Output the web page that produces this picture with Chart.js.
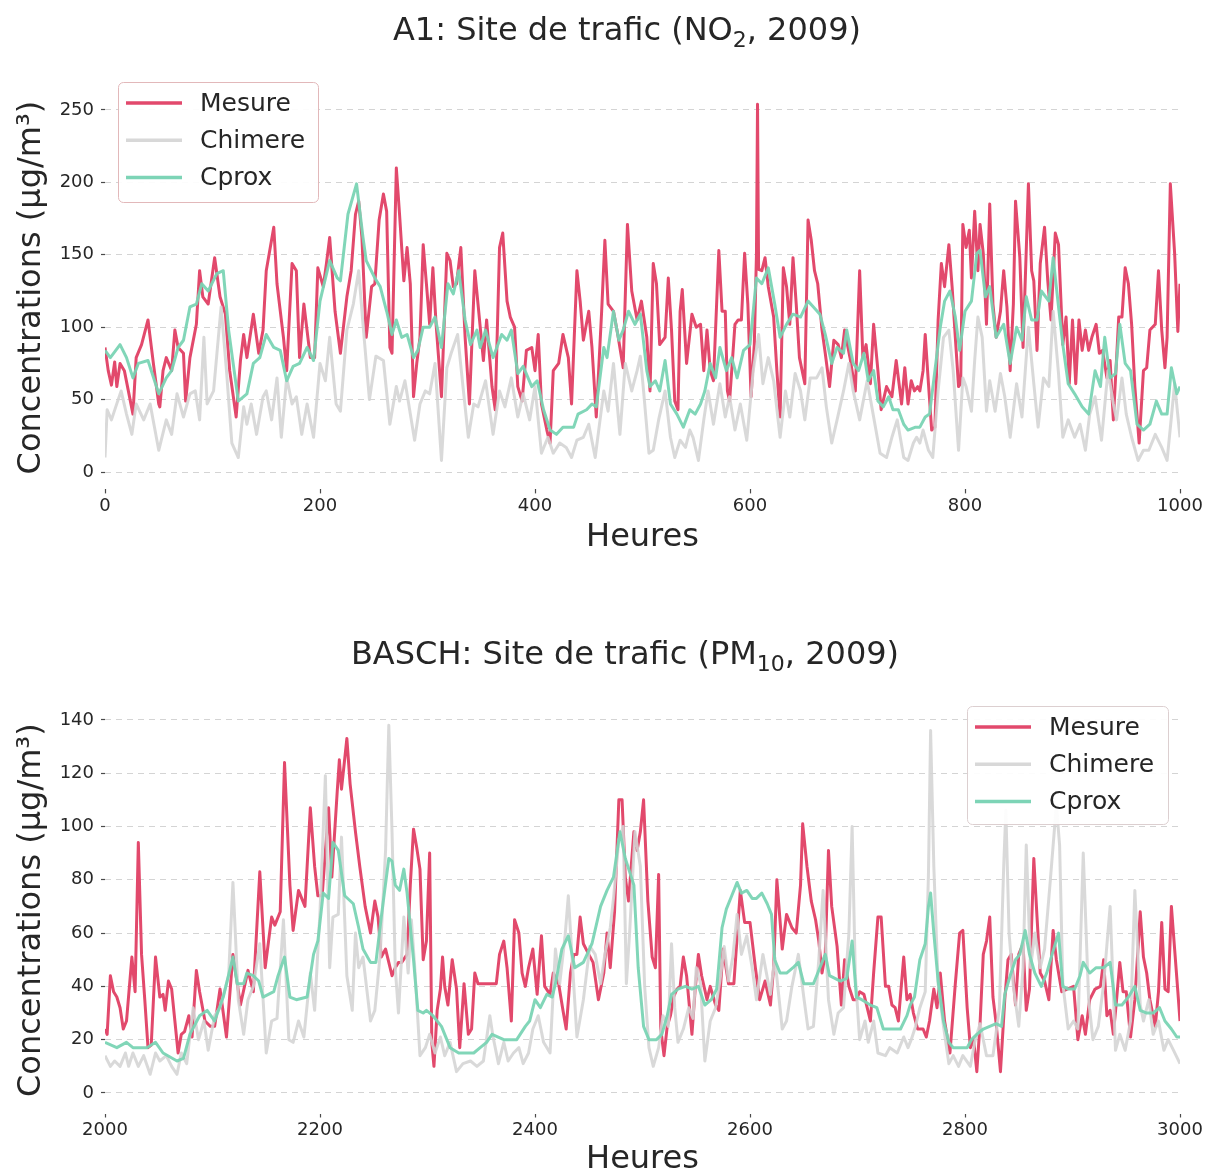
<!DOCTYPE html>
<html>
<head>
<meta charset="utf-8">
<script src="https://cdn.jsdelivr.net/npm/chart.js@4.4.1/dist/chart.umd.min.js"></script>
<style>
  html, body { margin: 0; padding: 0; background: #fff; overflow: hidden; }
  #wrap { position: relative; width: 1214px; height: 1172px; overflow: hidden; }
  canvas { position: absolute; left: 0; }
  #c1 { top: 0; }
  #c2 { top: 590px; }
</style>
</head>
<body>
<div id="wrap">
  <canvas id="c1" width="1214" height="590"></canvas>
  <canvas id="c2" width="1214" height="620"></canvas>
</div>
<script>
const seriesNames = ['Mesure', 'Chimere', 'Cprox'];

// A1, NO2, hours 0-1000
const a1Mesure = [[0,86],[3,70],[6,60],[9,76],[11,59],[14,75],[18,70],[26,40],[29,79],[34,88],[40,105],[45,75],[50,47],[51,45],[54,70],[57,79],[62,70],[65,98],[68,86],[73,82],[75,49],[79,79],[85,102],[88,139],[91,121],[96,116],[102,148],[107,121],[112,109],[116,70],[122,38],[126,77],[129,95],[132,79],[138,109],[143,82],[147,98],[150,139],[157,169],[160,130],[166,93],[169,70],[174,144],[178,139],[181,79],[185,116],[191,79],[195,79],[198,141],[203,128],[206,144],[209,162],[214,111],[219,82],[225,121],[229,139],[233,178],[236,187],[239,162],[243,93],[248,128],
  [251,130],[255,174],[259,192],[262,180],[265,86],[267,82],[271,210],[274,178],[278,132],[281,155],[284,130],[287,52],[290,75],[293,93],[296,157],[299,130],[302,102],[305,141],[308,102],[313,52],[318,151],[321,146],[324,128],[327,130],[331,155],[335,93],[339,47],[344,139],[347,116],[352,77],[355,105],[360,59],[363,43],[367,155],[370,165],[374,118],[377,107],[381,100],[384,59],[388,49],[392,84],[397,86],[400,70],[403,95],[406,47],[411,29],[414,20],[417,70],[422,75],[426,95],[431,79],[434,47],[439,139],[442,118],[445,91],[450,111],[453,86],[457,38],[462,111],[465,160],[468,116],[473,111],[477,95],[482,72],[486,171],[490,125],[495,105],[499,118],
  [504,93],[507,56],[510,144],[513,130],[516,88],[521,93],[524,134],[527,98],[530,49],[533,43],[535,111],[537,126],[541,75],[546,109],[550,100],[554,102],[557,70],[560,98],[563,70],[566,63],[571,153],[574,111],[577,111],[579,56],[581,49],[586,102],[589,105],[592,105],[595,151],[598,116],[601,52],[604,88],[606,150],[607,254],[608,140],[611,139],[614,148],[617,128],[622,107],[625,70],[628,38],[631,141],[634,128],[637,102],[640,148],[643,116],[646,79],[651,61],[654,174],[657,160],[660,139],[663,130],[667,98],[670,82],[674,59],[678,91],[682,88],[685,79],[688,98],[693,79],[698,56],[702,139],[705,79],[708,88],[712,61],[715,102],[719,70],[722,43],[727,59],[732,52],[736,77],[741,47],[744,72],[747,47],[750,63],[753,56],
  [756,59],[758,56],[761,70],[763,95],[766,61],[769,29],[772,31],[775,105],[778,144],[781,128],[785,157],[788,128],[791,93],[794,59],[796,61],[798,171],[801,155],[804,167],[806,134],[809,180],[812,139],[814,171],[817,151],[820,102],[823,185],[826,116],[829,93],[833,111],[836,139],[839,114],[842,70],[845,116],[847,187],[851,148],[854,86],[859,199],[862,139],[864,132],[867,84],[870,144],[874,169],[877,132],[880,105],[884,165],[887,157],[891,88],[894,107],[897,61],[900,105],[903,61],[906,105],[909,84],[912,98],[915,84],[918,93],[922,102],[925,82],[928,84],[932,65],[935,77],[938,36],[943,107],[946,107],[949,141],[952,130],[955,102],[958,59],[962,20],[966,70],[969,72],[972,98],[977,102],[980,139],[983,98],[986,72],[988,93],[991,199],[995,151],[998,97],[1000,130]];

const a1Chimere = [[0,10],[2,43],[6,36],[10,45],[15,56],[20,40],[25,26],[29,47],[36,36],[42,47],[50,15],[57,36],[62,26],[67,54],[73,38],[79,54],[84,56],[88,36],[92,93],[95,47],[101,56],[108,114],[113,70],[118,20],[124,10],[129,45],[132,33],[136,47],[141,26],[147,52],[150,56],[155,36],[160,65],[164,24],[169,65],[174,47],[178,52],[183,26],[188,47],[194,24],[200,75],[205,63],[209,93],[215,47],[219,42],[225,98],[231,116],[236,139],[240,102],[246,50],
  [252,80],[259,77],[265,33],[271,59],[274,49],[279,63],[288,22],[293,47],[298,56],[302,54],[307,75],[313,8],[318,72],[322,82],[328,95],[333,59],[338,24],[343,47],[347,45],[354,63],[361,26],[367,56],[372,45],[378,65],[384,38],[389,54],[395,36],[400,59],[406,13],[412,24],[417,13],[423,20],[429,17],[434,10],[439,22],[445,24],[450,33],[456,10],[464,56],[468,42],[473,75],[479,26],[484,75],[490,56],[495,70],
  [498,80],[501,56],[506,13],[510,15],[515,36],[521,56],[526,24],[530,10],[535,22],[540,17],[544,29],[547,24],[552,8],[557,36],[561,56],[566,33],[572,61],[577,38],[581,52],[586,29],[591,47],[597,22],[603,70],[608,95],[612,61],[617,79],[622,63],[628,24],[633,56],[637,38],[642,68],[647,56],[651,36],[656,65],[662,65],[667,72],[671,45],[676,20],[681,36],[687,56],[692,75],[696,56],[702,36],[709,63],[715,38],[721,13],[727,10],[732,24],[737,36],[743,10],[747,8],[752,20],
  [755,24],[758,20],[761,29],[766,15],[770,10],[775,56],[780,93],[785,98],[789,70],[794,15],[798,65],[801,59],[806,42],[809,77],[812,107],[816,93],[820,42],[823,63],[828,42],[833,68],[837,52],[842,24],[848,61],[853,38],[859,100],[864,61],[868,31],[873,65],[878,59],[882,111],[887,68],[891,24],[896,36],[902,24],[907,33],[912,15],[916,40],[921,52],[927,22],[933,70],[938,47],[941,36],[946,65],[950,40],[955,24],[961,8],[966,15],[971,15],[977,26],[983,17],[988,8],[992,38],[995,61],[1000,24]];

const a1Cprox = [[0,84],[5,79],[14,88],[20,79],[26,65],[31,75],[40,77],[50,54],[57,65],[62,70],[68,86],[73,91],[79,114],[85,116],[90,130],[96,125],[104,137],[110,139],[115,98],[124,49],[132,54],[138,75],[144,79],[150,95],[157,86],[163,84],[169,63],[175,73],[181,75],[188,86],[194,77],[200,118],[209,146],[216,134],[219,132],[226,178],[234,199],[240,162],[243,146],[251,134],
  [256,128],[262,111],[267,95],[271,105],[276,93],[281,95],[287,79],[291,84],[296,100],[302,100],[307,107],[313,86],[319,130],[324,123],[329,139],[335,105],[340,88],[346,98],[349,86],[354,98],[361,79],[369,95],[374,91],[378,98],[384,68],[389,73],[397,59],[402,63],[408,43],[414,29],[420,26],[426,31],[436,31],[440,40],[448,43],[453,47],[457,45],[464,86],[467,79],[473,111],[478,91],[482,98],[487,111],[493,102],[498,109],
  [504,70],[507,59],[512,63],[516,56],[521,77],[526,47],[532,40],[538,31],[544,43],[549,40],[554,47],[558,56],[563,75],[568,65],[572,86],[578,70],[583,79],[588,65],[594,84],[600,88],[606,134],[611,130],[617,141],[623,116],[628,93],[634,102],[640,109],[647,107],[654,118],[659,114],[665,109],[670,95],[676,75],[681,86],[687,82],[690,98],[696,75],[701,70],[706,82],[710,63],[715,70],[719,49],[724,45],[729,52],[733,43],[738,43],[743,33],[747,29],[754,31],
  [758,31],[763,38],[767,40],[772,70],[777,100],[781,118],[786,125],[791,107],[795,84],[800,111],[806,118],[811,151],[814,153],[819,121],[823,128],[829,93],[836,102],[842,75],[848,100],[853,91],[857,121],[862,105],[867,105],[871,125],[878,118],[882,148],[887,114],[891,88],[896,61],[902,54],[909,45],[915,40],[921,70],[926,59],[930,93],[935,65],[940,68],[944,102],[949,75],[954,70],[960,33],[966,29],[972,33],[978,49],[983,40],[988,40],[992,72],[997,54],[1000,59]];

// BASCH, PM10, hours 2000-3000
const bMesure = [[2000,24],[2002,22],[2005,44],[2008,38],[2011,36],[2014,32],[2017,24],[2020,27],[2025,51],[2028,38],[2031,94],[2034,52],[2037,35],[2040,17],[2043,18],[2047,51],[2051,36],[2054,37],[2056,31],[2059,42],[2062,39],[2065,27],[2068,15],[2071,22],[2074,23],[2078,29],[2081,21],[2085,46],[2088,38],[2093,27],[2098,25],[2102,25],[2107,39],[2113,21],[2119,52],[2126,33],[2133,46],[2138,38],[2144,83],[2149,47],[2155,66],[2158,63],[2163,68],[2167,124],[2172,78],[2175,61],[2180,76],[2186,70],[2191,107],[2195,85],[2198,74],[2202,74],[2208,107],[2211,81],[2216,113],[2218,125],[2220,114],[2225,133],[2228,116],[2233,98],[2237,85],[2242,70],[2247,60],[2251,72],
  [2254,66],[2257,51],[2261,54],[2264,49],[2267,44],[2270,47],[2273,49],[2276,49],[2281,52],[2284,78],[2287,99],[2290,92],[2293,84],[2296,50],[2299,57],[2302,90],[2304,19],[2306,10],[2309,31],[2312,39],[2314,51],[2316,40],[2319,33],[2323,50],[2327,39],[2330,17],[2334,41],[2338,22],[2341,24],[2344,45],[2347,41],[2364,41],[2367,52],[2371,57],[2374,47],[2378,27],[2381,65],[2385,60],[2388,45],[2391,40],[2394,47],[2398,54],[2402,37],[2406,59],[2409,40],[2414,37],[2417,45],[2422,41],[2426,31],[2429,24],[2433,45],[2436,52],[2439,52],[2442,66],[2445,56],[2450,52],[2454,49],[2459,35],[2464,45],[2467,60],[2470,47],[2474,68],[2478,110],[2481,110],[2484,81],[2487,72],[2492,98],[2495,91],[2498,98],[2501,110],
  [2505,72],[2509,51],[2512,47],[2515,82],[2517,24],[2520,14],[2523,25],[2526,29],[2529,36],[2532,39],[2535,40],[2538,51],[2541,44],[2546,22],[2549,39],[2552,52],[2555,44],[2560,35],[2563,40],[2568,33],[2571,31],[2575,54],[2580,41],[2585,41],[2591,76],[2595,64],[2600,64],[2605,47],[2609,35],[2614,42],[2619,33],[2622,47],[2625,80],[2630,54],[2634,67],[2639,62],[2643,60],[2647,78],[2649,101],[2653,85],[2657,72],[2661,65],[2664,57],[2667,45],[2670,52],[2673,91],[2676,70],[2681,55],[2685,33],[2688,50],[2692,40],[2696,35],[2699,35],[2702,38],[2706,37],[2709,32],[2712,27],[2715,45],[2719,66],[2722,66],[2726,40],[2729,40],[2732,33],[2735,32],[2738,27],[2743,51],[2746,35],[2749,37],
  [2752,30],[2756,24],[2761,24],[2764,21],[2767,27],[2771,39],[2774,32],[2777,45],[2781,27],[2786,15],[2791,41],[2795,60],[2798,61],[2802,32],[2805,17],[2808,20],[2811,8],[2814,26],[2817,52],[2820,57],[2823,66],[2826,36],[2829,26],[2833,8],[2837,35],[2840,50],[2843,52],[2847,33],[2850,52],[2854,56],[2857,31],[2860,39],[2864,88],[2867,66],[2870,45],[2874,42],[2878,35],[2882,61],[2885,50],[2890,38],[2895,39],[2901,40],[2905,20],[2909,29],[2912,22],[2916,35],[2921,39],[2926,40],[2929,50],[2932,29],[2935,31],[2938,22],[2941,35],[2944,49],[2947,38],[2950,38],[2954,21],[2958,35],[2963,68],[2966,51],[2969,45],[2972,35],[2977,25],[2980,38],[2983,64],[2986,39],[2989,38],[2992,70],[2995,54],[2998,38],[3000,27]];

const bChimere = [[2000,14],[2005,10],[2009,12],[2014,10],[2019,15],[2022,10],[2026,15],[2031,10],[2036,14],[2042,7],[2047,15],[2051,12],[2057,14],[2062,10],[2067,7],[2071,15],[2076,11],[2082,32],[2087,20],[2092,27],[2096,16],[2102,29],[2107,32],[2115,44],[2119,79],[2121,62],[2124,35],[2129,22],[2133,35],[2138,40],[2144,56],[2150,15],[2155,27],[2160,28],[2166,65],[2171,20],[2175,19],[2180,27],[2185,21],[2191,45],[2195,31],[2200,68],[2205,119],[2209,47],[2212,66],[2217,67],[2220,96],[2225,44],[2230,31],[2233,60],[2236,47],[2240,51],[2247,27],[2251,31],
  [2256,52],[2261,91],[2264,138],[2267,98],[2270,47],[2273,30],[2278,66],[2282,45],[2285,65],[2288,48],[2293,14],[2298,17],[2302,22],[2307,15],[2312,21],[2316,14],[2321,19],[2327,8],[2333,11],[2340,12],[2346,10],[2352,12],[2358,29],[2361,21],[2366,11],[2371,19],[2375,12],[2380,15],[2385,17],[2389,11],[2394,15],[2398,24],[2403,29],[2408,19],[2414,15],[2419,54],[2423,41],[2428,59],[2431,74],[2434,54],[2439,21],[2445,35],[2451,55],[2456,52],[2461,41],[2465,52],[2470,62],[2473,73],[2478,95],[2482,100],[2485,41],[2488,60],[2493,98],[2498,85],
  [2502,40],[2506,17],[2510,10],[2515,17],[2519,29],[2524,25],[2527,56],[2530,32],[2533,19],[2538,24],[2543,32],[2547,28],[2550,47],[2554,41],[2558,12],[2563,27],[2568,32],[2572,42],[2576,55],[2580,42],[2584,51],[2588,67],[2592,52],[2597,59],[2602,47],[2606,35],[2612,52],[2619,37],[2623,51],[2630,24],[2634,27],[2639,40],[2645,52],[2650,36],[2654,24],[2659,25],[2664,50],[2668,76],[2673,35],[2678,22],[2682,30],[2687,32],[2692,60],[2695,100],[2698,44],[2702,20],[2707,27],[2710,19],[2715,27],[2719,15],[2726,14],[2730,17],[2737,15],[2743,21],[2747,17],
  [2750,20],[2754,25],[2758,32],[2763,38],[2766,82],[2768,136],[2771,85],[2775,41],[2780,25],[2785,11],[2789,14],[2794,10],[2798,14],[2805,10],[2809,19],[2814,26],[2820,14],[2826,14],[2832,32],[2836,85],[2838,106],[2841,60],[2845,40],[2850,25],[2854,47],[2857,93],[2861,47],[2865,60],[2870,47],[2874,54],[2879,78],[2885,108],[2888,93],[2891,41],[2896,24],[2901,27],[2905,24],[2910,90],[2915,35],[2919,20],[2924,25],[2929,41],[2935,70],[2940,16],[2944,22],[2949,16],[2954,27],[2958,76],[2963,33],[2966,27],[2971,35],[2975,22],[2980,27],[2985,16],[2989,20],[2994,16],[3000,11]];

const bCprox = [[2000,19],[2011,17],[2020,19],[2026,17],[2039,17],[2047,19],[2054,15],[2067,12],[2073,13],[2079,22],[2088,29],[2095,31],[2102,27],[2110,36],[2119,51],[2123,41],[2129,41],[2132,45],[2138,44],[2143,42],[2147,36],[2157,38],[2161,44],[2167,51],[2172,36],[2178,35],[2188,36],[2194,52],[2198,57],[2203,75],[2208,73],[2212,94],[2217,91],[2223,74],[2231,71],[2236,62],[2240,54],[2247,49],[2252,49],
  [2257,66],[2264,88],[2267,87],[2270,78],[2274,76],[2278,84],[2281,75],[2287,50],[2291,31],[2296,30],[2299,31],[2305,29],[2313,25],[2321,17],[2329,15],[2336,15],[2343,15],[2349,17],[2355,19],[2360,22],[2371,20],[2383,20],[2391,25],[2395,27],[2400,35],[2405,32],[2411,37],[2416,36],[2419,41],[2425,54],[2431,59],[2437,47],[2445,49],[2453,56],[2461,70],[2467,76],[2473,81],[2479,98],[2484,88],[2492,78],[2496,47],[2501,25],
  [2506,20],[2513,20],[2518,22],[2523,29],[2527,37],[2533,39],[2540,40],[2546,39],[2552,40],[2558,33],[2564,35],[2569,39],[2574,62],[2578,69],[2583,74],[2588,79],[2592,75],[2597,76],[2602,73],[2606,73],[2611,75],[2616,71],[2620,67],[2623,50],[2628,45],[2634,45],[2640,47],[2645,49],[2650,41],[2659,41],[2665,47],[2670,52],[2674,44],[2684,42],[2690,43],[2695,57],[2699,36],[2704,35],[2712,33],[2718,32],[2724,24],[2733,24],[2740,24],[2746,29],
  [2749,33],[2753,36],[2758,50],[2763,56],[2766,70],[2768,75],[2771,60],[2775,42],[2780,27],[2785,19],[2789,17],[2795,17],[2802,17],[2806,20],[2811,22],[2817,24],[2823,25],[2829,26],[2834,25],[2837,37],[2842,44],[2847,50],[2851,52],[2856,61],[2860,52],[2865,45],[2871,40],[2876,45],[2881,52],[2887,60],[2891,40],[2896,39],[2902,39],[2907,44],[2910,49],[2916,45],[2922,47],[2929,47],[2935,49],[2940,33],[2946,33],[2952,36],[2958,40],[2963,31],[2969,30],[2975,30],[2981,32],[2986,27],[2992,24],[2997,21],[3000,21]];

// tick labels
const a1XTicks = [0, 200, 400, 600, 800, 1000];
const a1YTicks = [0, 50, 100, 150, 200, 250];
const bXTicks = [2000, 2200, 2400, 2600, 2800, 3000];
const bYTicks = [0, 20, 40, 60, 80, 100, 120, 140];

// titles, split so the subscript can be drawn lower and smaller
const a1Title = [['A1: Site de trafic (NO', false], ['2', true], [', 2009)', false]];
const bTitle = [['BASCH: Site de trafic (PM', false], ['10', true], [', 2009)', false]];

// ---- styling ----
const FONT = "'DejaVu Sans', sans-serif";
const TXT = '#262626';
const RED = '#e2496c';
const GREY = 'rgba(212,212,212,0.88)';
const GREEN = 'rgba(122,212,180,0.95)';
const legendColors = ['#e2496c', '#d8d8d8', '#7dd4b6'];

// title with a real subscript (chart.js titles are single-font)
function subTitle(parts, cx, baseY) {
  return {
    id: 'subTitle',
    afterDraw(chart) {
      const ctx = chart.ctx;
      ctx.save();
      ctx.fillStyle = TXT;
      ctx.textBaseline = 'alphabetic';
      const fontOf = sub => (sub ? '22px ' : '32px ') + FONT;
      let w = 0;
      parts.forEach(([t, sub]) => { ctx.font = fontOf(sub); w += ctx.measureText(t).width; });
      let x = cx - w / 2;
      parts.forEach(([t, sub]) => {
        ctx.font = fontOf(sub);
        ctx.fillText(t, x, baseY + (sub ? 7 : 0));
        x += ctx.measureText(t).width;
      });
      ctx.restore();
    }
  };
}

// matplotlib style framed legend drawn inside the plot
function boxLegend(box) {
  return {
    id: 'boxLegend',
    afterDraw(chart) {
      const ctx = chart.ctx;
      ctx.save();
      ctx.beginPath();
      ctx.roundRect(box.x + 0.5, box.y + 0.5, box.w, box.h, 5);
      ctx.fillStyle = 'rgba(255,255,255,0.92)';
      ctx.fill();
      ctx.strokeStyle = box.edge;
      ctx.lineWidth = 1;
      ctx.stroke();
      chart.data.datasets.forEach((ds, i) => {
        const y = box.y + 21 + i * 37.2;
        ctx.beginPath();
        ctx.moveTo(box.x + 8, y);
        ctx.lineTo(box.x + 64, y);
        ctx.strokeStyle = legendColors[i];
        ctx.lineWidth = 3.5;
        ctx.stroke();
        ctx.fillStyle = TXT;
        ctx.font = '25px ' + FONT;
        ctx.textBaseline = 'middle';
        ctx.fillText(ds.label, box.x + 82, y + 1);
      });
      ctx.restore();
    }
  };
}

function makeChart(id, cfg) {
  const toXY = arr => arr.map(p => ({ x: p[0], y: p[1] }));
  const colors = [RED, GREY, GREEN];
  const datasets = [cfg.mesure, cfg.chimere, cfg.cprox].map((arr, i) => ({
    label: seriesNames[i],
    data: toXY(arr),
    borderColor: colors[i],
    borderWidth: 3,
    pointRadius: 0,
    tension: 0,
    borderJoinStyle: 'round',
    order: 3 - i
  }));

  return new Chart(document.getElementById(id), {
    type: 'line',
    data: { datasets },
    options: {
      responsive: false,
      animation: false,
      devicePixelRatio: 1,
      parsing: false,
      layout: { padding: { left: 0, right: 34, top: cfg.plotTop, bottom: 0 } },
      plugins: {
        legend: { display: false },
        tooltip: { enabled: false },
        title: { display: false }
      },
      scales: {
        x: {
          type: 'linear',
          min: cfg.xTicks[0],
          max: cfg.xTicks[cfg.xTicks.length - 1],
          afterBuildTicks: s => { s.ticks = cfg.xTicks.map(v => ({ value: v })); },
          afterFit: s => { s.height = cfg.xAxisH; },
          grid: { drawOnChartArea: false, drawTicks: true, tickLength: 4, tickColor: '#4a4a4a', tickWidth: 1.2 },
          border: { display: false },
          ticks: { color: TXT, font: { family: FONT, size: 18 }, padding: 2, maxRotation: 0, autoSkip: false, callback: v => String(v) },
          title: { display: true, text: 'Heures', color: TXT, font: { family: FONT, size: 32 }, padding: { top: 0, bottom: cfg.xTitlePad } }
        },
        y: {
          type: 'linear',
          min: cfg.yMin,
          max: cfg.yMax,
          afterBuildTicks: s => { s.ticks = cfg.yTicks.map(v => ({ value: v })); },
          afterFit: s => { s.width = 105; },
          grid: { color: '#d4d4d4', lineWidth: 1, drawTicks: true, tickLength: 4, tickColor: '#4a4a4a', tickWidth: 1.2 },
          border: { display: false, dash: [6, 5] },
          ticks: { color: TXT, font: { family: FONT, size: 18 }, padding: 7, callback: v => String(v) },
          title: { display: true, text: 'Concentrations (µg/m³)', color: TXT, font: { family: FONT, size: 32 }, padding: { top: 12, bottom: 0 } }
        }
      }
    },
    plugins: [boxLegend(cfg.legend), subTitle(cfg.title, cfg.titleX, cfg.titleBase)]
  });
}

makeChart('c1', {
  title: a1Title, titleX: 627, titleBase: 40,
  mesure: a1Mesure, chimere: a1Chimere, cprox: a1Cprox,
  xTicks: a1XTicks, yTicks: a1YTicks,
  yMin: -12, yMax: 266.7,
  plotTop: 85.8,
  xAxisH: 100.6, xTitlePad: 33,
  legend: { x: 118, y: 82, w: 200, h: 120, edge: '#e2b8ba' }
});

makeChart('c2', {
  title: bTitle, titleX: 625, titleBase: 74,
  mesure: bMesure, chimere: bChimere, cprox: bCprox,
  xTicks: bXTicks, yTicks: bYTicks,
  yMin: -7.7, yMax: 144.9,
  plotTop: 116.8,
  xAxisH: 96.5, xTitlePad: 31,
  legend: { x: 967, y: 116, w: 201, h: 118, edge: '#dccfd0' }
});
</script>
</body>
</html>
